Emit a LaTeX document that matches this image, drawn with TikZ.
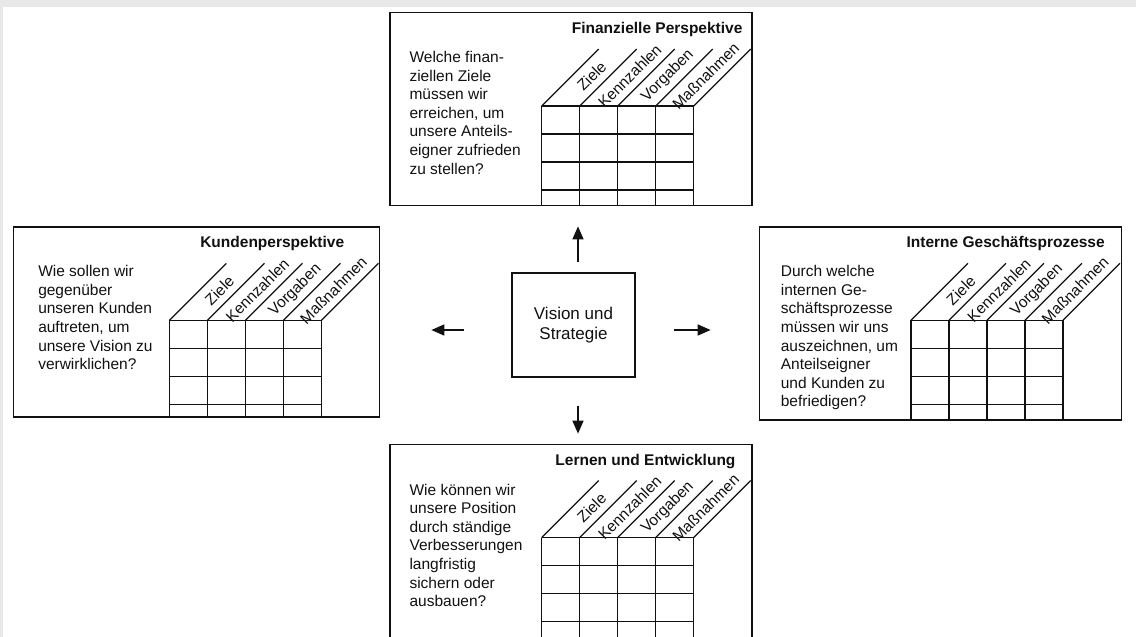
\documentclass[tikz,border=0pt]{standalone}
\usepackage{fontspec}
\setmainfont{Liberation Sans}
\usepackage{tikz}
\usetikzlibrary{calc}
\usetikzlibrary{positioning}
\usetikzlibrary{arrows.meta}
\definecolor{rand}{HTML}{E8E8E8}
\definecolor{tinte}{HTML}{111111}

\begin{document}
\begin{tikzpicture}[x=1pt,y=-1pt,>={Triangle[length=13pt,width=11pt]},node distance=66pt]
  \tikzstyle{persp}=[draw=tinte,line width=1.3pt,minimum width=362pt,minimum height=193pt,inner sep=0pt]
  \tikzstyle{frage}=[anchor=north west,align=left,inner sep=0pt,text=tinte,font=\fontsize{15.5}{18.6}\selectfont]
  \tikzstyle{titel}=[anchor=east,inner sep=0pt,text=tinte,font=\bfseries\fontsize{15.5}{18}\selectfont]
  \tikzstyle{spalte}=[rotate=45,inner sep=0pt,text=tinte,font=\fontsize{15.5}{16}\selectfont]
  \tikzstyle{gitter}=[draw=tinte,line width=1.6pt]
  \tikzstyle{pfeil}=[->,draw=tinte,line width=1.5pt]

  \fill[rand] (0,0) rectangle (1136,637);
  \fill[white] (3,7) rectangle (1136,637);
  \useasboundingbox (0,0) rectangle (1136,637);

  \node[persp,minimum width=123pt,minimum height=104pt,align=center,text=tinte,font=\fontsize{17}{20}\selectfont] (vis) at (573.5,325) {Vision und\\Strategie};

  \node[persp] (fin) [above=of vis,xshift=-2.5pt] {};
  \node[persp,minimum width=366pt,minimum height=190pt] (kun) [left=131pt of vis,yshift=3pt] {};
  \node[persp] (int) [right=123pt of vis,yshift=1.5pt] {};
  \node[persp,minimum height=210pt] (ler) [below=of vis,xshift=-2.5pt] {};

  % Titel und Fragen
  \node[titel] (fint) at ($(fin.north east)+(-10,17.5)$) {Finanzielle Perspektive};
  \node[titel] (kunt) at ($(kun.north east)+(-36,17.5)$) {Kundenperspektive};
  \node[titel] (intt) at ($(int.north east)+(-17,17.5)$) {Interne Geschäftsprozesse};
  \node[titel] (lert) at ($(ler.north east)+(-17,17.5)$) {Lernen und Entwicklung};

  \node[frage] (finq) at ($(fin.north west)+(20,39)$) {Welche finan-\\ziellen Ziele\\müssen wir\\erreichen, um\\unsere Anteils-\\eigner zufrieden\\zu stellen?};
  \node[frage] (kunq) at ($(kun.north west)+(25,39)$) {Wie sollen wir\\gegenüber\\unseren Kunden\\auftreten, um\\unsere Vision zu\\verwirklichen?};
  \node[frage] (intq) at ($(int.north west)+(22,39)$) {Durch welche\\internen Ge-\\schäftsprozesse\\müssen wir uns\\auszeichnen, um\\Anteilseigner\\und Kunden zu\\befriedigen?};
  \node[frage] (lerq) at ($(ler.north west)+(20,40)$) {Wie können wir\\unsere Position\\durch ständige\\Verbesserungen\\langfristig\\sichern oder\\ausbauen?};

  % Tabellen
  \foreach \p in {fin,kun,int,ler}{
    \coordinate (\p-g) at ($(\p.north east)+(-211,94)$);
    \foreach \r in {0,...,3}
      \draw[gitter] ($(\p-g)+(0,\r*28)$) -- ++(152,0);
    \foreach \c in {0,...,4}{
      \coordinate (\p-k\c) at ($(\p-g)+(\c*38,0)$);
      \draw[gitter] (\p-k\c) -- (\p-k\c |- \p.south);
      \draw[tinte,line width=1.2pt] (\p-k\c) -- ++(57,-57);
    }
    \foreach \c/\t in {0/Ziele,1/Kennzahlen,2/Vorgaben,3/Maßnahmen}
      \node[spalte] (\p-s\c) at ($(\p-k\c)+(50,-30)$) {\t};
  }

  \draw[pfeil,shorten <=10pt,shorten >=20pt] ([xshift=4.5pt]vis.north) -- ([xshift=4.5pt]vis.north |- fin.south);
  \draw[pfeil,shorten <=28pt,shorten >=10pt] ([xshift=4.5pt]vis.south) -- ([xshift=4.5pt]vis.south |- ler.north);
  \draw[pfeil,shorten <=47pt,shorten >=51pt] ([yshift=-5pt]vis.west) -- ([yshift=-5pt]vis.west -| kun.east);
  \draw[pfeil,shorten <=38pt,shorten >=48pt] ([yshift=-5pt]vis.east) -- ([yshift=-5pt]vis.east -| int.west);
\end{tikzpicture}
\end{document}
